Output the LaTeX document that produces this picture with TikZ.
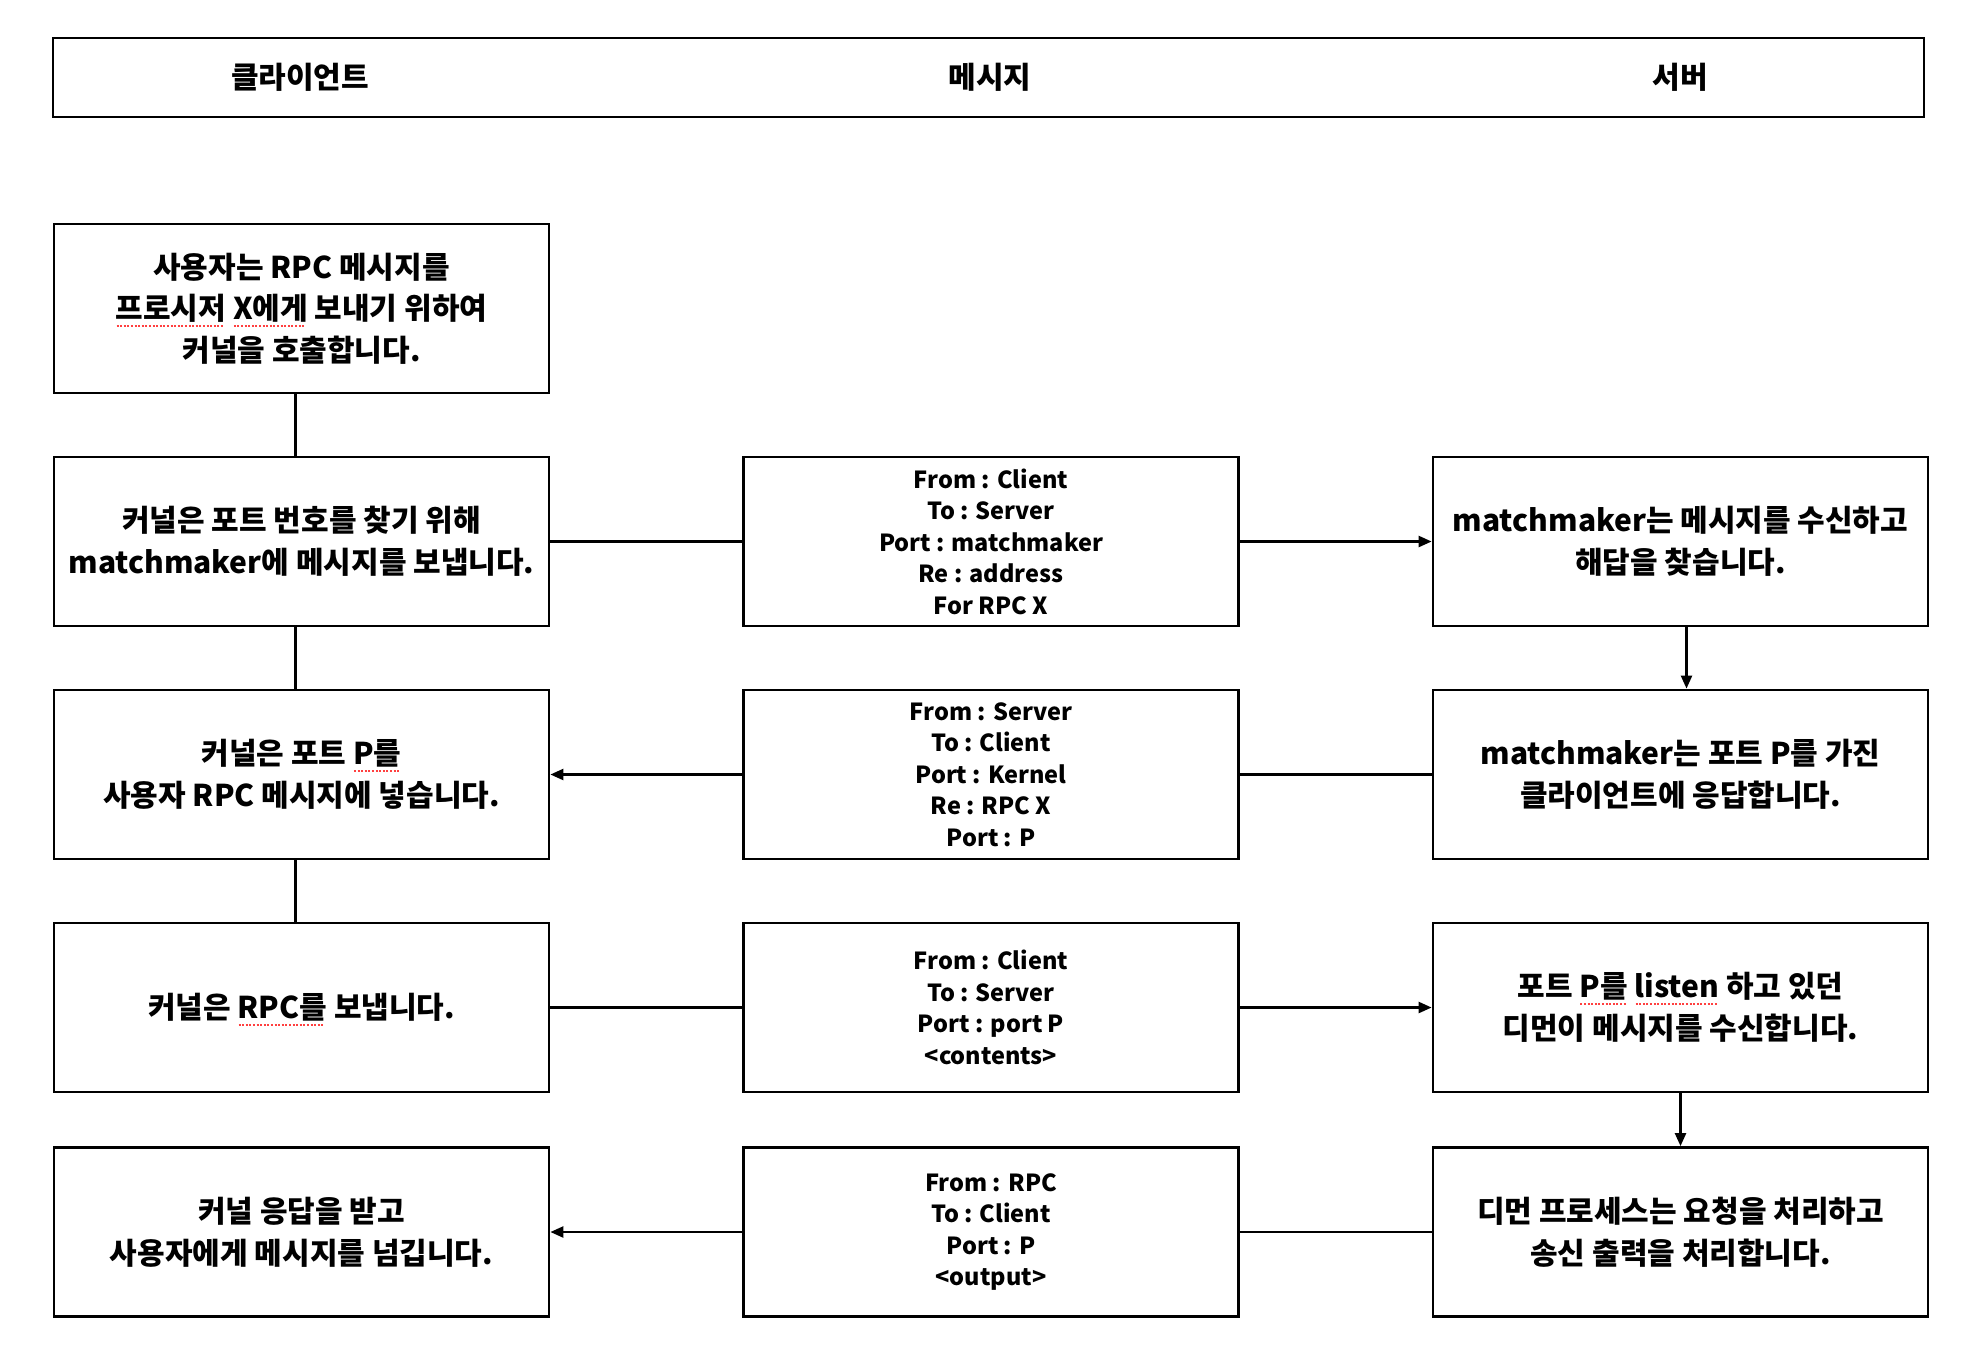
\documentclass[tikz,border=0pt]{standalone}
\usepackage{fontspec}
\setmainfont{Noto Sans CJK KR}
\usetikzlibrary{arrows.meta}
\newcommand\kbox{\fontsize{30}{41.6}\selectfont\bfseries}
\newcommand\kmsg{\fontsize{23.5}{31.5}\selectfont\bfseries}
\newcommand\khdr{\fontsize{30}{34}\selectfont\bfseries}
\newcommand\sqline[1]{\setbox0=\hbox{#1}\rlap{\raisebox{-7pt}[0pt][0pt]{\color{red!75}\hbox to \wd0{\leaders\hbox to 3.6pt{\hss\rule{2pt}{1.8pt}\hss}\hfill}}}\box0\relax}
\begin{document}
\begin{tikzpicture}[x=1pt,y=-1pt,
  box/.style={draw,line width=2.8pt,minimum width=495pt,minimum height=169pt,align=center,inner sep=0pt,font=\kbox},
  msg/.style={box,font=\kmsg},
  hdrtxt/.style={font=\khdr,inner sep=0pt},
  conn/.style={line width=2.4pt},
  arr/.style={conn,-{Triangle[length=13pt,width=11pt]}}]
\useasboundingbox (0,0) rectangle (1976,1366);
% header
\node[draw,line width=2.8pt,minimum width=1871pt,minimum height=79pt,inner sep=0pt] (hdr) at (988.5,77.5) {};
\node[hdrtxt] (h1) at (300,77) {클라이언트};
\node[hdrtxt] (h2) at (990,77) {메시지};
\node[hdrtxt] (h3) at (1680,77) {서버};
% left column
\node[box] (l1) at (301.5,308.5) {사용자는 RPC 메시지를\\\sqline{프로시저} \sqline{X에게} 보내기 위하여\\커널을 호출합니다.};
\node[box] (l2) at (301.5,541.5) {커널은 포트 번호를 찾기 위해\\matchmaker에 메시지를 보냅니다.};
\node[box] (l3) at (301.5,774.5) {커널은 포트 \sqline{P를}\\사용자 RPC 메시지에 넣습니다.};
\node[box] (l4) at (301.5,1007.5) {커널은 \sqline{RPC를} 보냅니다.};
\node[box] (l5) at (301.5,1232) {커널 응답을 받고\\사용자에게 메시지를 넘깁니다.};
% middle column
\node[msg] (m2) at (991,541.5) {From : Client\\To : Server\\Port : matchmaker\\Re : address\\For RPC X};
\node[msg] (m3) at (991,774.5) {From : Server\\To : Client\\Port : Kernel\\Re : RPC X\\Port : P};
\node[msg] (m4) at (991,1007.5) {From : Client\\To : Server\\Port : port P\\<contents>};
\node[msg] (m5) at (991,1232) {From : RPC\\To : Client\\Port : P\\<output>};
% right column
\node[box] (r2) at (1680.5,541.5) {matchmaker는 메시지를 수신하고\\해답을 찾습니다.};
\node[box] (r3) at (1680.5,774.5) {matchmaker는 포트 P를 가진\\클라이언트에 응답합니다.};
\node[box] (r4) at (1680.5,1007.5) {포트 \sqline{P를} \sqline{listen} 하고 있던\\디먼이 메시지를 수신합니다.};
\node[box] (r5) at (1680.5,1232) {디먼 프로세스는 요청을 처리하고\\송신 출력을 처리합니다.};
% connectors
\draw[conn] ([xshift=-6pt]l1.south) -- ([xshift=-6pt]l2.north);
\draw[conn] ([xshift=-6pt]l2.south) -- ([xshift=-6pt]l3.north);
\draw[conn] ([xshift=-6pt]l3.south) -- ([xshift=-6pt]l4.north);
\draw[conn] (l2) -- (m2);
\draw[arr] (m2) -- (r2);
\draw[conn] (r3) -- (m3);
\draw[arr] (m3) -- (l3);
\draw[conn] (l4) -- (m4);
\draw[arr] (m4) -- (r4);
\draw[conn] (r5) -- (m5);
\draw[arr] (m5) -- (l5);
\draw[arr] ([xshift=6pt]r2.south) -- ([xshift=6pt]r3.north);
\draw[arr] (r4) -- (r5);
\end{tikzpicture}
\end{document}
